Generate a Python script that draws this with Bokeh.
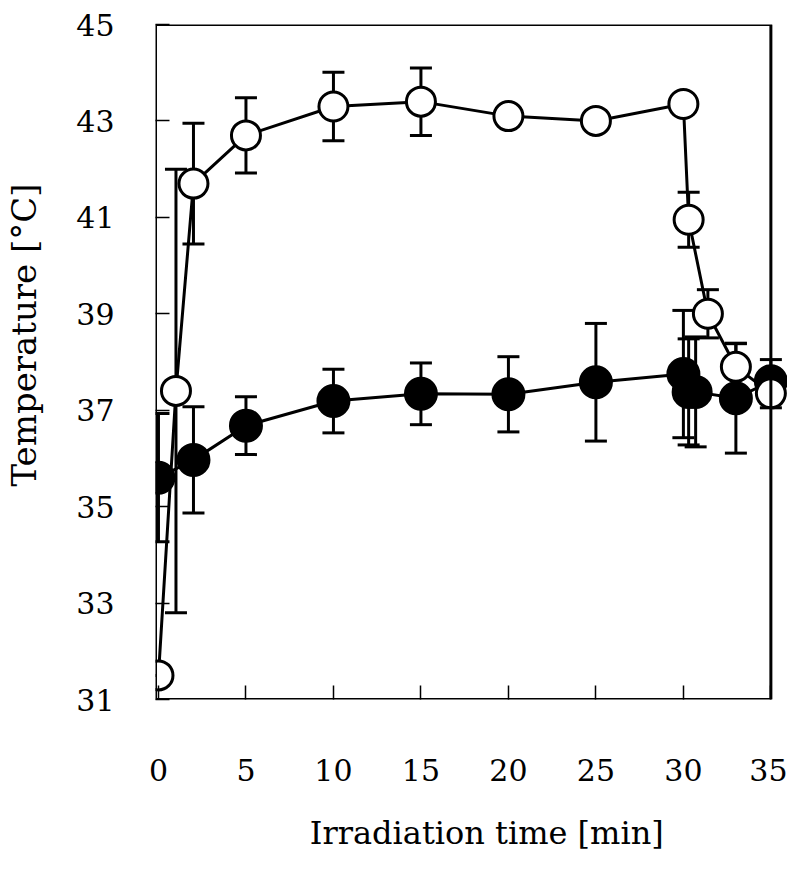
from bokeh.plotting import figure
from bokeh.models import (ColumnDataSource, Whisker, TeeHead, FixedTicker,
                          BoxAnnotation, Range1d)
from bokeh.embed import file_html
from bokeh.resources import INLINE

# ---- data ----
open_time = [0, 1, 2, 5, 10, 15, 20, 25, 30, 30.3, 31.4, 33, 35]
open_temp = [31.5, 37.4, 41.7, 42.7, 43.3, 43.4, 43.1, 43.0, 43.35, 40.95, 39.0, 37.9, 37.35]
open_err = [0.0, 4.6, 1.25, 0.78, 0.71, 0.7, 0.2, 0.2, 0.2, 0.57, 0.5, 0.48, 0.3]

filled_time = [0, 2, 5, 10, 15, 20, 25, 30, 30.3, 30.7, 33, 35]
filled_temp = [35.6, 35.97, 36.68, 37.19, 37.34, 37.33, 37.58, 37.75, 37.38, 37.38, 37.25, 37.6]
filled_err = [1.33, 1.1, 0.6, 0.66, 0.64, 0.78, 1.22, 1.32, 1.1, 1.14, 1.14, 0.45]

x_ticks = [0, 5, 10, 15, 20, 25, 30, 35]
y_ticks = [31, 33, 35, 37, 39, 41, 43, 45]
x_title = "Irradiation time [min]"
y_title = "Temperature [°C]"

X_START, X_END, X_FRAME_END = -0.17, 35.95, 35
Y_START, Y_END = 31, 45

FONT = "DejaVu Serif"
NBSP = "\u00a0"

p = figure(width=787, height=878, output_backend="svg", toolbar_location=None,
           x_range=Range1d(X_START, X_END), y_range=Range1d(Y_START, Y_END),
           min_border_left=155, min_border_top=24, min_border_right=0,
           min_border_bottom=179)
p.outline_line_color = None
p.grid.visible = False
p.background_fill_color = "white"
p.border_fill_color = "white"

# frame
p.add_layout(BoxAnnotation(left=X_START, right=X_FRAME_END, bottom=Y_START, top=Y_END,
                           fill_alpha=0, line_color="black", line_alpha=1.0,
                           line_width=3))

for ax in (p.xaxis[0], p.yaxis[0]):
    ax.axis_line_color = None
    ax.major_tick_in = 14
    ax.major_tick_out = 0
    ax.minor_tick_line_color = None
    ax.major_tick_line_width = 1.5
    ax.major_label_text_font = FONT
    ax.major_label_text_font_size = "30px"
    ax.major_label_text_color = "black"
    ax.axis_label_text_font = FONT
    ax.axis_label_text_font_style = "normal"
    ax.axis_label_text_color = "black"

p.xaxis.ticker = FixedTicker(ticks=x_ticks)
p.yaxis.ticker = FixedTicker(ticks=y_ticks)
p.xaxis.major_label_standoff = 59
p.yaxis.major_label_standoff = 41

# axis titles (non-breaking spaces shift the centred titles like the reference)
p.xaxis.axis_label = NBSP * 3 + x_title
p.xaxis.axis_label_text_font_size = "32px"
p.xaxis.axis_label_standoff = 30
p.yaxis.axis_label = NBSP * 5 + y_title
p.yaxis.axis_label_text_font_size = "34px"
p.yaxis.axis_label_standoff = 29

# error bars
def add_err(t, v, e):
    src = ColumnDataSource(dict(x=t, upper=[a + b for a, b in zip(v, e)],
                                lower=[a - b for a, b in zip(v, e)]))
    w = Whisker(source=src, base="x", upper="upper", lower="lower",
                dimension="height", line_width=3, line_color="black",
                upper_head=TeeHead(size=22, line_width=3, line_color="black"),
                lower_head=TeeHead(size=22, line_width=3, line_color="black"),
                level="underlay")
    p.add_layout(w)

add_err(filled_time, filled_temp, filled_err)
add_err(open_time, open_temp, open_err)

# lines
p.line(filled_time, filled_temp, line_width=3, line_color="black")
p.line(open_time, open_temp, line_width=3, line_color="black")

# markers
p.scatter(filled_time, filled_temp, size=32, marker="circle",
          fill_color="black", line_color="black", line_width=2)
p.scatter(open_time, open_temp, size=29, marker="circle",
          fill_color="white", line_color="black", line_width=3)

open("out.html", "w").write(file_html(p, INLINE))
